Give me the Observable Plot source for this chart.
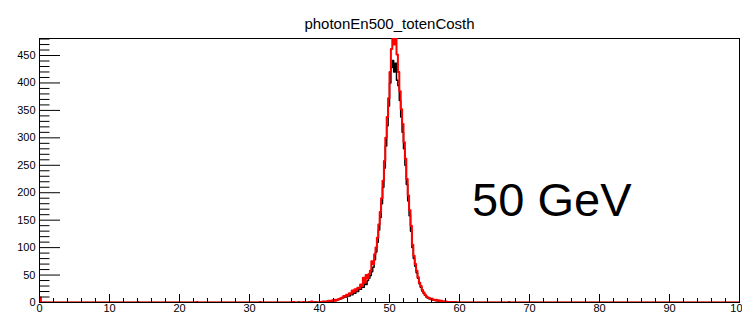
<!DOCTYPE html>
<html><head><meta charset="utf-8">
<script src="https://cdn.jsdelivr.net/npm/d3@7"></script>
<script src="https://cdn.jsdelivr.net/npm/@observablehq/plot@0.6"></script>
<style>body{margin:0;background:#fff;} svg{display:block}</style>
</head><body><div id="chart"></div>
<script>
const title = ["photonEn500_totenCosth"];
const annotation = ["50 GeV"];
const binWidth = 0.2;
const peakStart = 40;
// counts per 0.2 bin from 40.0 to 59.8
const redPeak = [
  1,0,2,1,2,1,3,2,3,4,
  3,5,4,6,7,8,9,12,11,14,
  13,17,16,22,19,24,22,27,26,33,
  30,45,36,50,44,52,58,75,70,88,
  100,118,142,165,190,222,258,300,338,372,
  420,462,495,470,488,452,420,385,352,325,
  292,262,225,195,168,140,105,85,70,58,
  46,36,30,23,18,14,11,9,8,6,
  7,5,4,5,3,4,2,3,2,1,
  2,1,1,0,1,0,1,0,0,0
];
const blackPeak = [
  0,1,1,2,1,2,2,3,2,3,
  4,3,5,5,6,7,8,9,11,10,
  13,12,15,14,18,17,21,20,25,24,
  29,28,34,33,40,44,49,56,64,78,
  92,110,132,155,180,210,245,285,322,358,
  400,428,441,420,436,405,395,368,338,310,
  280,250,215,185,158,130,100,80,66,54,
  44,34,28,21,17,13,10,8,7,6,
  5,4,4,3,3,2,3,2,1,2,
  1,1,0,1,0,0,0,1,0,0
];
const redSparse = [[0, 9], [22.4, 1], [31.4, 1], [36.2, 1], [37.6, 1], [38.8, 2], [39.4, 1]];
const blackSparse = [[14, 1], [37, 1], [38.4, 1], [39.2, 1], [67, 1]];
const xMajor = [0, 10, 20, 30, 40, 50, 60, 70, 80, 90, 100];
const yMajor = [0, 50, 100, 150, 200, 250, 300, 350, 400, 450];
const xMinor = d3.range(0, 101, 2).filter(v => v % 10 !== 0);
const yMinor = d3.range(0, 481, 10).filter(v => v % 50 !== 0);

function histPoints(peak, sparse) {
  const n = Math.round(100 / binWidth);
  const counts = new Array(n).fill(0);
  sparse.forEach(([x, c]) => counts[Math.round(x / binWidth)] = c);
  const off = Math.round(peakStart / binWidth);
  peak.forEach((c, i) => counts[off + i] = c);
  const pts = counts.map((c, i) => ({x: i * binWidth, y: c}));
  pts.push({x: 100, y: counts[n - 1]});
  return pts;
}
const black = histPoints(blackPeak, blackSparse);
const red = histPoints(redPeak, redSparse);

const font = "'Liberation Sans', Arial, Helvetica, sans-serif";
const chart = Plot.plot({
  width: 742, height: 316,
  marginTop: 38, marginLeft: 39, marginRight: 3, marginBottom: 14,
  x: {domain: [0, 100], label: null},
  y: {domain: [0, 481], label: null},
  style: {fontFamily: font, background: "#fff", color: "#000", overflow: "hidden"},
  marks: [
    Plot.frame({stroke: "#000"}),
    Plot.lineY(black, {x: "x", y: "y", curve: "step-after", stroke: "#000", strokeWidth: 1.5, clip: true}),
    Plot.lineY(red, {x: "x", y: "y", curve: "step-after", stroke: "#ff0000", strokeWidth: 2, clip: true}),
    Plot.axisX({ticks: xMajor, tickSize: -8, tickPadding: 10, fontSize: 11, label: null, tickFormat: d => String(d)}),
    Plot.axisX({ticks: xMinor, tickSize: -4, label: null, tickFormat: () => ""}),
    Plot.axisY({ticks: yMajor, tickSize: -21, tickPadding: 25, fontSize: 11, label: null, tickFormat: d => String(d)}),
    Plot.axisY({ticks: yMinor, tickSize: -10.5, label: null, tickFormat: () => ""}),
    Plot.text(title, {frameAnchor: "top", dy: -20, fontSize: 15, text: d => d}),
    Plot.text(annotation, {x: 61.8, y: 185, text: d => d, textAnchor: "start", lineAnchor: "middle", fontSize: 47})
  ]
});
document.getElementById("chart").appendChild(chart);
</script>
</body></html>
